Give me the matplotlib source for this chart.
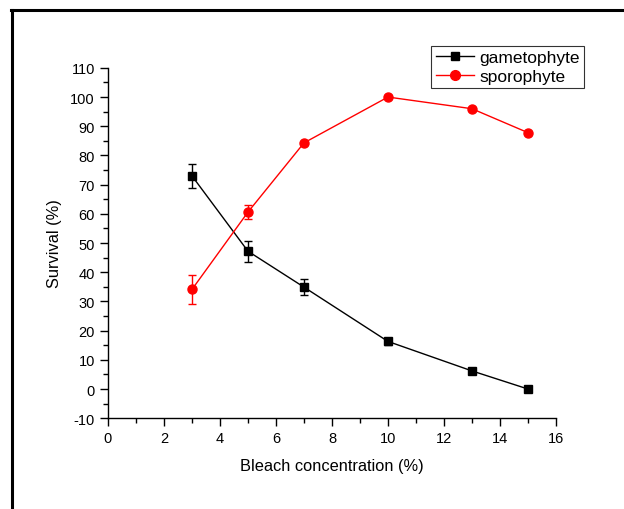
import matplotlib
matplotlib.use("Agg")
import matplotlib.pyplot as plt
from matplotlib.lines import Line2D
from matplotlib.ticker import MultipleLocator

plt.rcParams['font.family'] = ['Liberation Sans', 'DejaVu Sans']
plt.rcParams['axes.unicode_minus'] = False

# --- data ---
conc = [3, 5, 7, 10, 13, 15]
gameto = [73.0, 47.2, 34.9, 16.3, 6.2, 0.0]
gameto_err = [4.2, 3.6, 2.7, 1.2, 0.0, 0.0]
sporo = [34.1, 60.6, 84.3, 100.0, 96.0, 87.8]
sporo_err = [5.1, 2.3, 0.0, 0.0, 0.0, 0.0]

fig = plt.figure(figsize=(6.24, 5.10), dpi=100)
ax = fig.add_axes([0.173, 0.178, 0.718, 0.687])

ax.errorbar(conc, gameto, yerr=gameto_err, color='black', marker='s', ms=5.5,
            lw=1, elinewidth=1, capsize=2.6, capthick=1)
ax.errorbar(conc, sporo, yerr=sporo_err, color='red', marker='o', ms=6.5,
            lw=1, elinewidth=1, capsize=2.6, capthick=1)

ax.set_xlim(0, 16)
ax.set_ylim(-10, 110)
ax.xaxis.set_major_locator(MultipleLocator(2))
ax.xaxis.set_minor_locator(MultipleLocator(1))
ax.yaxis.set_major_locator(MultipleLocator(10))
ax.yaxis.set_minor_locator(MultipleLocator(5))
ax.tick_params(which='major', direction='out', length=6, width=1, labelsize=10.5)
ax.tick_params(which='minor', direction='out', length=3.5, width=1)
for s in ['top', 'right']:
    ax.spines[s].set_visible(False)
for s in ['left', 'bottom']:
    ax.spines[s].set_linewidth(1)

ax.set_xlabel('Bleach concentration (%)', fontsize=11.8, labelpad=9)
ax.set_ylabel('Survival (%)', fontsize=11.8, labelpad=6)

handles = [
    Line2D([], [], color='black', marker='s', ms=5.5, lw=1),
    Line2D([], [], color='red', marker='o', ms=7, lw=1),
]
leg = ax.legend(handles, ['gametophyte', 'sporophyte'], loc='upper right',
                bbox_to_anchor=(1.0625, 1.063), fontsize=12.5,
                frameon=True, fancybox=False, edgecolor='black',
                handlelength=2.2, borderpad=0.25, labelspacing=0.2,
                handletextpad=0.3, borderaxespad=0)
leg.get_frame().set_linewidth(0.8)

# outer frame (left and top edges visible in the reference)
fig.add_artist(Line2D([0.019, 0.019], [0.0, 0.978], color='black', lw=2.2,
                      transform=fig.transFigure))
fig.add_artist(Line2D([0.017, 1.0], [0.978, 0.978], color='black', lw=2.2,
                      transform=fig.transFigure))

fig.savefig('out.png', dpi=100)
